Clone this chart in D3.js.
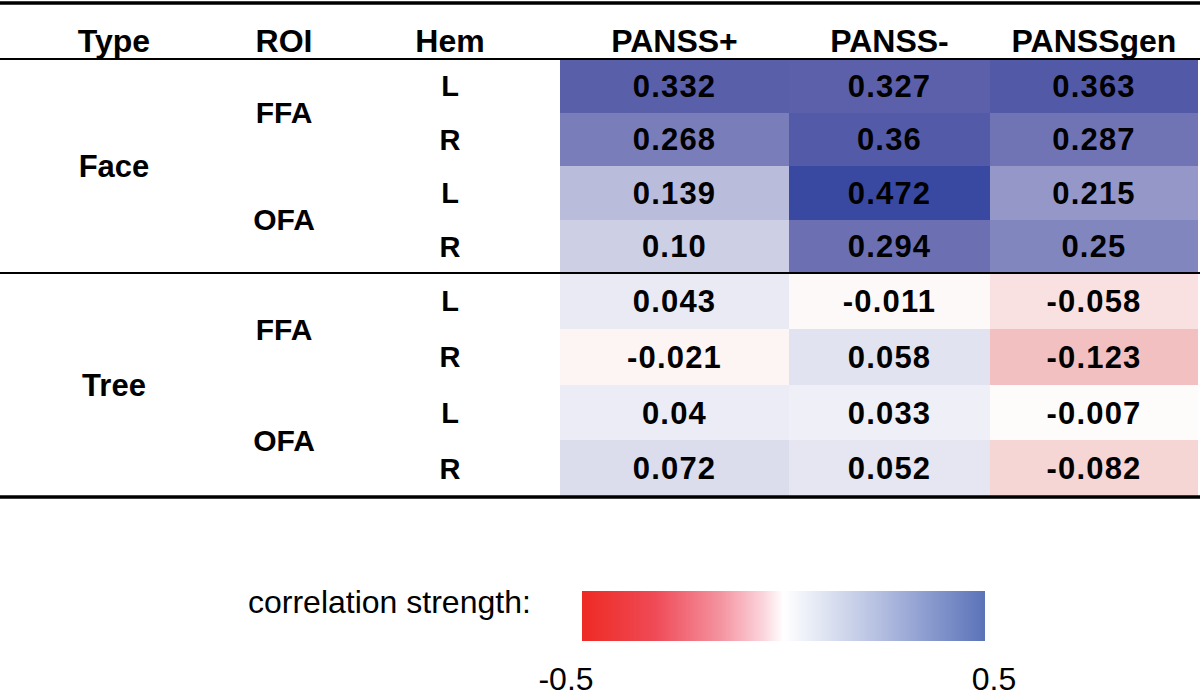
<!DOCTYPE html>
<html>
<head>
<meta charset="utf-8">
<script src="https://cdn.jsdelivr.net/npm/d3@7"></script>
<style>
  html, body { margin: 0; padding: 0; background: #fff; }
  svg { display: block; }
  text { font-family: "Liberation Sans", Arial, Helvetica, sans-serif; fill: #000; }
</style>
</head>
<body>
<svg id="chart" width="1200" height="696"></svg>
<script>
// ---- data ----
const types = ["Face", "Tree"];
const rois = ["FFA", "OFA"];
const hems = ["L", "R"];
const measures = ["PANSS+", "PANSS-", "PANSSgen"];
const stubHeaders = ["Type", "ROI", "Hem"];
// values per measure, rows ordered Face-FFA-L, Face-FFA-R, Face-OFA-L, Face-OFA-R, Tree-FFA-L, ...
const pansPositive = ["0.332", "0.268", "0.139", "0.10", "0.043", "-0.021", "0.04", "0.072"];
const pansNegative = ["0.327", "0.36", "0.472", "0.294", "-0.011", "0.058", "0.033", "0.052"];
const pansGeneral  = ["0.363", "0.287", "0.215", "0.25", "-0.058", "-0.123", "-0.007", "-0.082"];
const legendTicks = [-0.5, 0.5];
const legendTitle = "correlation strength:";

// ---- layout ----
const W = 1200, H = 696;
const tableLeft = 560, columnWidths = [229, 201, 208];
const headerTop = 59, groupHeights = [214, 223];
const stubX = [114, 284, 450];

const svg = d3.select("#chart");

// rows
const rows = [];
types.forEach(t => rois.forEach(r => hems.forEach(h => rows.push({type: t, roi: r, hem: h}))));
const series = [pansPositive, pansNegative, pansGeneral];

// column scale
const colStarts = columnWidths.reduce((acc, w, i) => { acc.push(acc[i] + w); return acc; }, [tableLeft]);
const xStart = d3.scaleOrdinal().domain(measures).range(colStarts.slice(0, measures.length));
const xWidth = d3.scaleOrdinal().domain(measures).range(columnWidths);

// group (type) scale
const groupStarts = groupHeights.reduce((acc, h, i) => { acc.push(acc[i] + h); return acc; }, [headerTop]);
const groupY = d3.scaleOrdinal().domain(types).range(groupStarts.slice(0, types.length));
const groupH = d3.scaleOrdinal().domain(types).range(groupHeights);
const inner = {};
types.forEach(t => {
  inner[t] = d3.scaleBand()
    .domain(rois.flatMap(r => hems.map(h => r + "-" + h)))
    .range([groupY(t), groupY(t) + groupH(t)]);
});
const rowY = d => inner[d.type](d.roi + "-" + d.hem);
const rowH = d => inner[d.type].bandwidth();

// cell colour scale
const cellColor = d3.scaleLinear()
  .domain([-0.5, 0, 0.33, 0.5])
  .range(["#ca0000", "#ffffff", "#5a5faa", "#3245a0"])
  .interpolate(d3.interpolateRgb)
  .clamp(true);

// cells
const cells = [];
rows.forEach((r, i) => measures.forEach((m, j) => cells.push({...r, measure: m, label: series[j][i], value: +series[j][i]})));

svg.append("g").selectAll("rect").data(cells).join("rect")
  .attr("x", d => xStart(d.measure))
  .attr("y", d => rowY(d))
  .attr("width", d => xWidth(d.measure))
  .attr("height", d => rowH(d))
  .attr("fill", d => cellColor(d.value))
  .attr("shape-rendering", "crispEdges");

svg.append("g").selectAll("text").data(cells).join("text")
  .attr("x", d => xStart(d.measure) + xWidth(d.measure) / 2)
  .attr("y", d => rowY(d) + rowH(d) / 2)
  .attr("dy", "0.36em")
  .attr("text-anchor", "middle")
  .style("font-weight", "bold")
  .style("font-size", "31px")
  .style("letter-spacing", "1.2px")
  .text(d => d.label);

// header
const headerBaseline = 52;
svg.append("g").selectAll("text").data(stubHeaders).join("text")
  .attr("x", (d, i) => stubX[i])
  .attr("y", headerBaseline)
  .attr("text-anchor", "middle")
  .style("font-weight", "bold").style("font-size", "32px")
  .text(d => d);
svg.append("g").selectAll("text").data(measures).join("text")
  .attr("x", d => xStart(d) + xWidth(d) / 2)
  .attr("y", headerBaseline)
  .attr("text-anchor", "middle")
  .style("font-weight", "bold").style("font-size", "32px")
  .text(d => d);

// stub labels
svg.append("g").selectAll("text").data(types).join("text")
  .attr("x", stubX[0])
  .attr("y", d => groupY(d) + groupH(d) / 2)
  .attr("dy", "0.36em")
  .attr("text-anchor", "middle")
  .style("font-weight", "bold").style("font-size", "31px")
  .text(d => d);

const roiItems = types.flatMap(t => rois.map(r => ({type: t, roi: r})));
svg.append("g").selectAll("text").data(roiItems).join("text")
  .attr("x", stubX[1])
  .attr("y", d => {
    const s = inner[d.type];
    const a = s(d.roi + "-" + hems[0]), b = s(d.roi + "-" + hems[hems.length - 1]) + s.bandwidth();
    return (a + b) / 2;
  })
  .attr("dy", "0.36em")
  .attr("text-anchor", "middle")
  .style("font-weight", "bold").style("font-size", "30px")
  .text(d => d.roi);

svg.append("g").selectAll("text").data(rows).join("text")
  .attr("x", stubX[2])
  .attr("y", d => rowY(d) + rowH(d) / 2)
  .attr("dy", "0.36em")
  .attr("text-anchor", "middle")
  .style("font-weight", "bold").style("font-size", "29px")
  .text(d => d.hem);

// rules
const rules = [
  {y: 3, w: 3.5},
  {y: headerTop, w: 2},
  {y: groupY(types[1]), w: 2},
  {y: groupY(types[1]) + groupH(types[1]) + 1, w: 3.5}
];
svg.append("g").selectAll("line").data(rules).join("line")
  .attr("x1", 0).attr("x2", W)
  .attr("y1", d => d.y).attr("y2", d => d.y)
  .attr("stroke", "#000").attr("stroke-width", d => d.w);

// legend
const legX = d3.scaleLinear().domain([-0.5, 0.5]).range([582, 985]);
const legTop = 591, legH = 50;
const defs = svg.append("defs");
const grad = defs.append("linearGradient").attr("id", "legGrad").attr("x1", "0%").attr("x2", "100%");
const legendStops = [
  [0, "#ee2a24"], [0.18, "#ef4a56"], [0.34, "#f4919e"], [0.45, "#fbd5dc"], [0.5, "#ffffff"],
  [0.58, "#e6eaf5"], [0.72, "#bac4e3"], [0.87, "#8798cd"], [1, "#5b73b8"]
];
grad.selectAll("stop").data(legendStops).join("stop")
  .attr("offset", d => (d[0] * 100) + "%")
  .attr("stop-color", d => d[1]);
svg.append("rect")
  .attr("x", legX(-0.5)).attr("y", legTop)
  .attr("width", legX(0.5) - legX(-0.5)).attr("height", legH)
  .attr("fill", "url(#legGrad)");

svg.append("text")
  .attr("x", 248).attr("y", 613)
  .style("font-size", "32px")
  .text(legendTitle);

svg.append("g").selectAll("text").data(legendTicks).join("text")
  .attr("x", d => legX(d) + (d < 0 ? -16 : 9))
  .attr("y", 690)
  .attr("text-anchor", "middle")
  .style("font-size", "32px")
  .text(d => d);
</script>
</body>
</html>
